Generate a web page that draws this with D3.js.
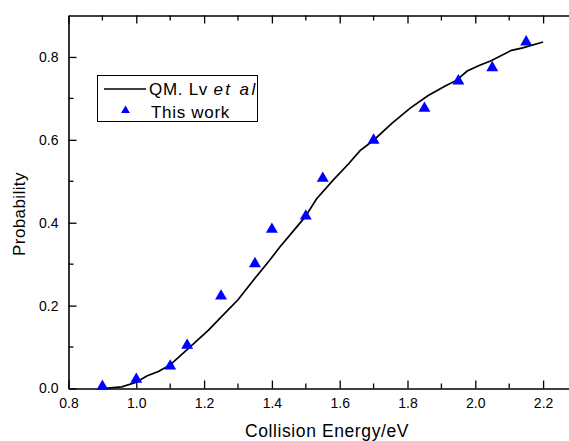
<!DOCTYPE html>
<html>
<head>
<meta charset="utf-8">
<script src="https://cdn.jsdelivr.net/npm/d3@7"></script>
<style>
  body { margin: 0; background: #fff; }
  text { font-family: "Liberation Sans", Arial, sans-serif; fill: #000; }
</style>
</head>
<body>
<div id="my_dataviz"></div>
<script>
// QM curve (Lv et al)
var qmEnergy = [0.90, 0.957, 1.0, 1.031, 1.065, 1.10, 1.149, 1.213, 1.25, 1.30, 1.35, 1.394, 1.424, 1.453, 1.498,
                1.532, 1.58, 1.625, 1.66, 1.70, 1.753, 1.807, 1.861, 1.91, 1.945, 1.976, 2.013, 2.045, 2.107, 2.14, 2.20];
var qmProb   = [0.0, 0.004, 0.015, 0.030, 0.041, 0.057, 0.093, 0.141, 0.172, 0.214, 0.266, 0.310, 0.342, 0.370, 0.414,
                0.458, 0.502, 0.541, 0.574, 0.599, 0.639, 0.676, 0.707, 0.729, 0.744, 0.766, 0.780, 0.790, 0.816, 0.822, 0.836];

// This work
var workEnergy = [0.90, 1.0, 1.10, 1.15, 1.25, 1.35, 1.40, 1.50, 1.55, 1.70, 1.85, 1.95, 2.05, 2.15];
var workProb   = [0.005, 0.022, 0.054, 0.104, 0.223, 0.301, 0.384, 0.416, 0.507, 0.599, 0.676, 0.742, 0.774, 0.836];

var xTicks = [0.8, 1.0, 1.2, 1.4, 1.6, 1.8, 2.0, 2.2];
var yTicks = [0.0, 0.2, 0.4, 0.6, 0.8];
var legendLabels = ["QM. Lv ", "This work"];

var outerWidth = 569, outerHeight = 441;
var margin = {top: 15.5, right: -8, bottom: 52.5, left: 68.5};
var width  = outerWidth - margin.left - margin.right,
    height = outerHeight - margin.top - margin.bottom;

var svg = d3.select('#my_dataviz').append('svg')
    .attr('width', outerWidth)
    .attr('height', outerHeight);

var inner = svg.append('g')
    .attr('transform', 'translate(' + margin.left + ',' + margin.top + ')');

var x = d3.scaleLinear().domain([0.8, 2.3]).range([0, width]);
var y = d3.scaleLinear().domain([0, 0.9]).range([height, 0]);

var minorX = [0.9, 1.1, 1.3, 1.5, 1.7, 1.9, 2.1];
var minorY = [0.1, 0.3, 0.5, 0.7];

function tickFmt(d) { return d3.format('.1f')(d); }

// bottom axis, ticks inward
var axBottom = inner.append('g').attr('transform', 'translate(0,' + height + ')')
    .call(d3.axisBottom(x).tickValues(xTicks).tickSizeInner(-8).tickSizeOuter(0).tickPadding(10).tickFormat(tickFmt));
axBottom.append('g').selectAll('line').data(minorX).enter().append('line')
    .attr('x1', function(d) { return x(d); }).attr('x2', function(d) { return x(d); })
    .attr('y1', 0).attr('y2', -5);

// top axis
var axTop = inner.append('g')
    .call(d3.axisTop(x).tickValues(xTicks).tickSizeInner(-8).tickSizeOuter(0).tickFormat(''));
axTop.append('g').selectAll('line').data(minorX).enter().append('line')
    .attr('x1', function(d) { return x(d); }).attr('x2', function(d) { return x(d); })
    .attr('y1', 0).attr('y2', 5);

// left axis
var axLeft = inner.append('g')
    .call(d3.axisLeft(y).tickValues(yTicks).tickSizeInner(-8).tickSizeOuter(0).tickPadding(10).tickFormat(tickFmt));
axLeft.append('g').selectAll('line').data(minorY).enter().append('line')
    .attr('y1', function(d) { return y(d); }).attr('y2', function(d) { return y(d); })
    .attr('x1', 0).attr('x2', 5);

// right axis
var axRight = inner.append('g').attr('transform', 'translate(' + width + ',0)')
    .call(d3.axisRight(y).tickValues(yTicks).tickSizeInner(-8).tickSizeOuter(0).tickFormat(''));
axRight.append('g').selectAll('line').data(minorY).enter().append('line')
    .attr('y1', function(d) { return y(d); }).attr('y2', function(d) { return y(d); })
    .attr('x1', 0).attr('x2', -5);

inner.selectAll('.domain').attr('stroke', '#000').attr('stroke-width', 1.6);
inner.selectAll('.tick line').attr('stroke', '#000').attr('stroke-width', 1.3);
inner.selectAll('g > g > line').attr('stroke', '#000').attr('stroke-width', 1.3);
inner.selectAll('.tick text').style('font-size', '14px').style('font-family', '"Liberation Sans", Arial, sans-serif').attr('fill', '#000');

// axis titles
svg.append('text')
    .attr('x', 327).attr('y', 436.5)
    .attr('text-anchor', 'middle')
    .style('font-size', '17.5px')
    .style('letter-spacing', '0.6px')
    .text('Collision Energy/eV');

svg.append('text')
    .attr('transform', 'translate(25,214) rotate(-90)')
    .attr('text-anchor', 'middle')
    .style('font-size', '17px')
    .style('letter-spacing', '0.4px')
    .text('Probability');

// QM line
var qmData = qmEnergy.map(function(d, i) { return {e: d, p: qmProb[i]}; });
var line = d3.line()
    .x(function(d) { return x(d.e); })
    .y(function(d) { return y(d.p); });

inner.append('path')
    .datum(qmData)
    .attr('fill', 'none')
    .attr('stroke', '#000')
    .attr('stroke-width', 1.7)
    .attr('d', line);

// triangles
var workData = workEnergy.map(function(d, i) { return {e: d, p: workProb[i]}; });
var tri = d3.symbol().type(d3.symbolTriangle).size(62);

inner.append('g').selectAll('path')
    .data(workData)
    .enter().append('path')
    .attr('d', tri)
    .attr('fill', '#0000ff')
    .attr('transform', function(d) { return 'translate(' + x(d.e) + ',' + y(d.p) + ')'; });

// legend
var legend = svg.append('g');
legend.append('rect')
    .attr('x', 97.5).attr('y', 75.5)
    .attr('width', 160).attr('height', 46)
    .attr('fill', '#fff').attr('stroke', '#000').attr('stroke-width', 1);
legend.append('line')
    .attr('x1', 104).attr('x2', 146).attr('y1', 89).attr('y2', 89)
    .attr('stroke', '#000').attr('stroke-width', 1.7);
var t1 = legend.append('text')
    .attr('x', 149).attr('y', 94.5)
    .style('font-size', '17px')
    .style('letter-spacing', '0.7px');
t1.append('tspan').text(legendLabels[0]);
t1.append('tspan').style('font-style', 'italic').style('letter-spacing', '2.4px').text('et al');
legend.append('path')
    .attr('d', d3.symbol().type(d3.symbolTriangle).size(34))
    .attr('fill', '#0000ff')
    .attr('transform', 'translate(125.5,110.5)');
legend.append('text')
    .attr('x', 151).attr('y', 117.5)
    .style('font-size', '17px')
    .style('letter-spacing', '0.7px')
    .text(legendLabels[1]);
</script>
</body>
</html>
